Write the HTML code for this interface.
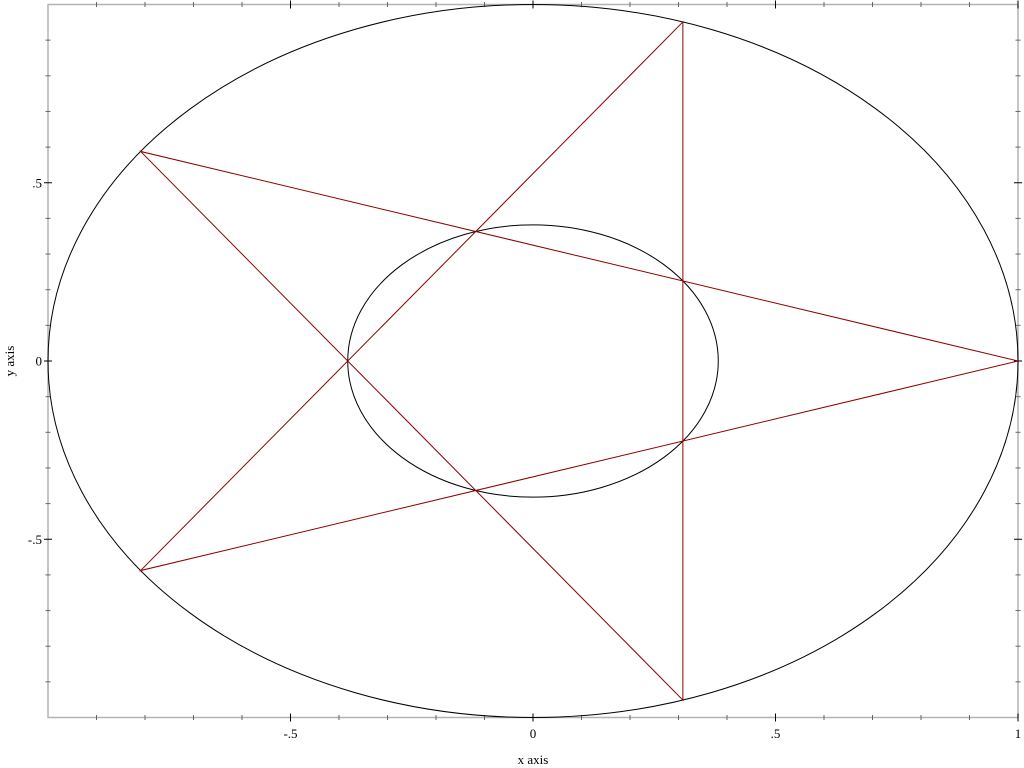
<!DOCTYPE html>
<html><head><meta charset="utf-8"><style>
html,body{margin:0;padding:0;background:#fff;width:1024px;height:768px;overflow:hidden}
text{font-family:"Liberation Serif",serif;font-size:13px;fill:#000}
</style></head><body>
<svg id="chart" width="1024" height="768" xmlns="http://www.w3.org/2000/svg">
<g id="axes"></g><g id="marks"></g>
</svg>
<script>
const xTicks = [-0.5, 0, 0.5, 1];
const xTickLabels = ["-.5", "0", ".5", "1"];
const yTicks = [-0.5, 0, 0.5];
const yTickLabels = ["-.5", "0", ".5"];
const outerRadius = [1];
const innerRadius = [0.382];
const starAngles = [0, 144, 288, 72, 216, 0];

const L=48, R=1018, T=4.5, B=717.5;
const sx = v => L + (v + 1) / 2 * (R - L);
const sy = v => B - (v + 1) / 2 * (B - T);
const NS = "http://www.w3.org/2000/svg";
const axes = document.getElementById('axes'), marks = document.getElementById('marks');
function mk(tag, attrs, parent){const e=document.createElementNS(NS,tag);for(const k in attrs)e.setAttribute(k,attrs[k]);parent.appendChild(e);return e;}

const frame = mk('rect',{x:L,y:T,width:R-L,height:B-T,fill:'none',stroke:'#b3b3b3','stroke-width':1.5},axes);



for(let i=-9;i<=10;i++){
  const v=i/10, major = i%5===0, len = major?4:2.5, col = major?'#000':'#666';
  const x=sx(v);
  mk('line',{x1:x,x2:x,y1:B-len,y2:B+len,stroke:col},axes);
  mk('line',{x1:x,x2:x,y1:T-len,y2:T+len,stroke:col},axes);
}
for(let i=-9;i<=9;i++){
  const v=i/10, major = i%5===0, len = major?4:2.5, col = major?'#000':'#666';
  const y=sy(v);
  mk('line',{x1:L-len,x2:L+len,y1:y,y2:y,stroke:col},axes);
  mk('line',{x1:R-len,x2:R+len,y1:y,y2:y,stroke:col},axes);
}
xTicks.forEach((v,i)=>{
  const t=mk('text',{x:sx(v),y:738,'text-anchor':'middle'},axes);t.textContent=xTickLabels[i];
  
  
});
yTicks.forEach((v,i)=>{
  const t=mk('text',{x:42,y:sy(v)+4.5,'text-anchor':'end'},axes);t.textContent=yTickLabels[i];
  
  
});
const xl=mk('text',{x:533,y:764,'text-anchor':'middle'},axes);xl.textContent='x axis';


const yl=mk('text',{x:0,y:0,'text-anchor':'middle',transform:'translate(14,361) rotate(-90)'},axes);yl.textContent='y axis';



[outerRadius[0], innerRadius[0]].forEach((r,i)=>{
  const c=mk('ellipse',{cx:sx(0),cy:sy(0),rx:sx(r)-sx(0),ry:sy(0)-sy(r),fill:'none',stroke:'#000','stroke-width':1},marks);
  
  
});
const pts = starAngles.map(a=>{const r=a*Math.PI/180;return sx(Math.cos(r))+','+sy(Math.sin(r));}).join(' ');
const star=mk('polyline',{points:pts,fill:'none',stroke:'#8b0000','stroke-width':1},marks);


</script>
</body></html>
